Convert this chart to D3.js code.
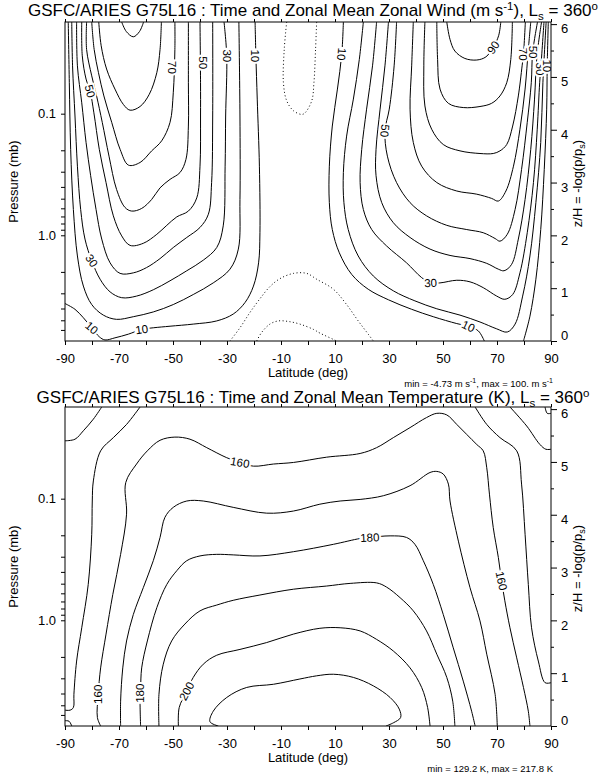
<!DOCTYPE html>
<html>
<head>
<meta charset="utf-8">
<script src="https://cdn.jsdelivr.net/npm/d3@7"></script>
<style>
body { margin: 0; background: #fff; }
svg text { font-family: "Liberation Sans", Arial, sans-serif; fill: #000; }
</style>
</head>
<body>
<div class="canva"></div>
<script>
// ---- data (lat in deg, z = -log(p/ps)) ----
const latTicks = d3.range(-90, 91, 10);
const latLabels = [-90, -70, -50, -30, -10, 10, 30, 50, 70, 90];
const zTicks = [0, 1, 2, 3, 4, 5, 6];
const zMinorTicks = [0.5, 1.5, 2.5, 3.5, 4.5, 5.5];
const pressureTicks = [0.1, 0.2, 0.3, 0.4, 0.5, 0.6, 0.7, 0.8, 0.9, 1, 2, 3, 4, 5, 6];
const pressureLabels = {0.1: "0.1", 1: "1.0"};
const surfacePressure = 7.4;
const zTop = 6.04;

// zonal wind, southern jet
const windSouth = [
  {level: 90, pts: [[-69.0,6.04],[-67.3,5.86],[-64.7,5.76],[-62.4,5.86],[-60.9,6.04]]},
  {level: 80, pts: [[-77.5,6.04],[-76.6,5.59],[-74.6,5.15],[-71.5,4.77],[-68.4,4.48],[-65.9,4.37],[-62.2,4.44],[-58.8,4.67],[-56.0,5.08],[-54.8,5.52],[-54.3,6.04]]},
  {level: 70, pts: [[-80.1,6.04],[-79.2,5.52],[-77.6,5.08],[-75.6,4.64],[-72.7,4.14],[-69.6,3.63],[-66.5,3.33],[-62.2,3.38],[-57.9,3.60],[-54.2,3.79],[-51.1,4.14],[-49.9,4.70],[-49.3,5.52],[-49.3,6.04]]},
  {level: 60, pts: [[-82.0,6.04],[-82.0,5.52],[-80.1,5.02],[-78.3,4.64],[-76.2,4.14],[-73.7,3.50],[-70.9,2.87],[-67.8,2.53],[-65.3,2.46],[-61.6,2.51],[-57.9,2.68],[-54.8,2.90],[-51.1,3.06],[-47.4,3.19],[-45.2,3.44],[-44.3,4.07],[-44.3,4.89],[-44.3,6.04]]},
  {level: 50, pts: [[-83.8,6.04],[-83.6,5.40],[-82.2,4.96],[-80.7,4.73],[-79.3,4.32],[-77.3,3.63],[-74.8,3.00],[-72.1,2.37],[-69.0,1.99],[-65.9,1.81],[-61.0,1.85],[-56.0,2.02],[-52.3,2.19],[-48.6,2.35],[-44.3,2.46],[-41.2,2.71],[-40.0,3.31],[-39.8,4.26],[-39.8,4.89],[-40.0,6.04]]},
  {level: 40, pts: [[-85.7,6.04],[-85.4,5.21],[-83.8,4.51],[-82.2,3.76],[-80.5,3.13],[-78.5,2.49],[-76.4,1.93],[-73.3,1.48],[-69.6,1.28],[-64.7,1.29],[-59.8,1.39],[-54.8,1.56],[-49.9,1.77],[-44.9,1.96],[-40.0,2.15],[-36.9,2.40],[-35.7,3.0],[-35.3,4.26],[-35.3,6.04]]},
  {level: 30, pts: [[-87.5,6.04],[-87.2,5.21],[-86.3,4.26],[-85.4,3.31],[-84.2,2.49],[-82.6,1.93],[-80.1,1.52],[-77.0,1.17],[-73.3,0.93],[-69.0,0.82],[-63.5,0.85],[-57.3,0.97],[-51.1,1.14],[-44.9,1.33],[-38.8,1.53],[-33.8,1.77],[-31.4,2.18],[-30.7,3.31],[-30.5,4.26],[-30.1,5.40],[-31.1,6.04]]},
  {level: 20, pts: [[-88.8,6.04],[-88.4,4.89],[-87.9,3.63],[-86.9,2.49],[-85.4,1.61],[-83.2,1.04],[-80.1,0.69],[-75.8,0.49],[-70.9,0.41],[-64.7,0.46],[-57.3,0.55],[-49.9,0.69],[-42.5,0.88],[-35.1,1.10],[-28.9,1.36],[-25.8,1.74],[-25.2,2.68],[-25.2,4.26],[-25.6,6.04]]},
  {level: 10, pts: [[-19.6,6.04],[-19.3,5.40],[-18.8,4.58],[-18.0,3.31],[-17.8,2.05],[-18.3,1.48],[-20.2,1.04],[-23.3,0.73],[-27.7,0.51],[-33.8,0.38],[-42.5,0.32],[-51.1,0.28],[-57.3,0.25],[-61.6,0.22],[-66.5,0.13],[-71.5,0.06],[-75.2,0.02],[-77.3,0.08],[-80.1,0.25],[-83.2,0.44],[-86.3,0.60],[-90,0.71]]}
];

// zonal wind, northern jet
const windNorth = [
  {level: 90, pts: [[51.4,6.04],[52.6,5.71],[54.4,5.49],[58.1,5.35],[62.5,5.32],[65.9,5.38],[68.6,5.56],[70.6,5.78],[71.4,6.04]]},
  {level: 80, pts: [[47.7,6.04],[48.0,5.33],[48.9,4.77],[52.0,4.50],[57.5,4.42],[63.7,4.44],[68.0,4.50],[71.1,4.64],[73.6,4.89],[75.1,5.33],[75.7,6.04]]},
  {level: 70, pts: [[43.3,6.04],[42.9,5.21],[43.3,4.45],[45.8,4.01],[50.1,3.72],[56.3,3.60],[63.7,3.55],[68.6,3.55],[71.1,3.60],[73.6,3.72],[75.8,4.07],[77.9,4.64],[79.3,5.21],[79.8,5.43],[80.5,6.04]]},
  {level: 60, pts: [[39.0,6.04],[38.4,5.21],[37.8,4.39],[39.0,3.76],[42.1,3.31],[47.7,3.0],[55.1,2.84],[62.5,2.78],[68.0,2.70],[70.5,2.65],[73.3,2.84],[76.1,3.31],[78.5,4.01],[80.4,4.77],[81.6,5.52],[82.5,6.04]]},
  {level: 50, pts: [[32.8,6.04],[31.9,5.21],[30.1,4.39],[28.5,3.98],[29.4,3.50],[32.8,3.0],[37.8,2.62],[43.9,2.37],[51.4,2.19],[58.8,2.11],[64.9,2.05],[69.3,1.94],[71.1,1.89],[73.8,2.02],[76.7,2.49],[79.1,3.25],[81.2,4.14],[82.7,4.89],[83.2,5.46],[85.0,6.04]]},
  {level: 40, pts: [[29.8,6.04],[28.5,5.21],[26.7,4.39],[25.2,3.63],[25.2,3.13],[27.3,2.62],[31.6,2.24],[37.8,1.96],[45.2,1.74],[52.6,1.62],[60.0,1.56],[66.2,1.47],[70.5,1.36],[72.6,1.33],[75.4,1.45],[77.9,1.93],[80.4,2.68],[82.5,3.63],[83.9,4.58],[84.8,5.40],[86.5,6.04]]},
  {level: 30, pts: [[25.4,6.04],[23.9,5.21],[21.7,4.39],[19.9,3.63],[19.3,3.0],[20.5,2.49],[23.6,2.11],[29.1,1.80],[36.5,1.48],[42.1,1.20],[45.4,1.10],[48.9,1.10],[55.1,1.15],[60.0,1.12],[64.9,1.01],[69.9,0.85],[72.9,0.79],[75.8,0.88],[78.5,1.29],[81.2,2.05],[83.5,3.0],[84.9,4.01],[85.8,4.89],[86.2,5.15],[87.4,6.04]]},
  {level: 20, pts: [[20.5,6.04],[19.0,5.33],[16.8,4.58],[14.3,3.88],[13.1,3.19],[13.3,2.62],[14.9,2.11],[18.6,1.61],[24.2,1.23],[31.6,0.95],[39.6,0.76],[47.7,0.61],[56.3,0.49],[63.7,0.36],[69.9,0.23],[73.8,0.17],[76.7,0.32],[79.5,0.85],[82.2,1.61],[84.4,2.62],[86.2,3.76],[87.0,4.89],[88.2,6.04]]},
  {level: 10, pts: [[13.1,6.04],[12.5,5.43],[10.9,4.77],[9.0,4.07],[7.9,3.31],[7.9,2.62],[9.0,2.11],[11.6,1.67],[16.2,1.26],[22.3,0.98],[29.8,0.78],[38.4,0.60],[46.4,0.46],[55.1,0.33],[59.4,0.28],[63.1,0.19],[65.3,0]]},
  {level: 10, pts: [[79.8,0],[82.2,0.47],[84.4,1.17],[86.2,2.11],[87.5,3.25],[88.4,4.39],[88.6,5.21],[89.0,6.04]]}
];

// weak easterly zero lines (dotted)
const windZero = [
  [[-7.9,6.04],[-8.8,5.52],[-9.1,4.89],[-7.9,4.55],[-5.4,4.36],[-2.3,4.29],[-1.1,4.32],[1.4,4.55],[2.2,4.89],[2.8,5.52],[3.2,6.04]],
  [[-28.9,0],[-25.2,0.25],[-21.5,0.54],[-17.8,0.80],[-14.1,1.03],[-10.4,1.18],[-5.4,1.28],[-0.5,1.28],[3.2,1.17],[9.4,0.98],[14.3,0.69],[18.6,0.38],[22.3,0.13],[24.2,0]],
  [[-19.0,0],[-17.2,0.16],[-14.1,0.32],[-11.0,0.38],[-7.3,0.37],[-3.0,0.32],[2.0,0.22],[4.4,0.15],[9.4,0.03],[10.6,0]]
];

const windLabels = [
  {text: "70", lat: -50.5, z: 5.18, angle: 90},
  {text: "50", lat: -39.0, z: 5.27, angle: 90},
  {text: "30", lat: -30.1, z: 5.40, angle: 90},
  {text: "10", lat: -19.5, z: 5.40, angle: 90},
  {text: "50", lat: -80.7, z: 4.73, angle: 75},
  {text: "30", lat: -80.1, z: 1.52, angle: 55},
  {text: "10", lat: -80.1, z: 0.25, angle: 40},
  {text: "10", lat: -61.6, z: 0.22, angle: -8},
  {text: "10", lat: 12.5, z: 5.43, angle: 95},
  {text: "50", lat: 28.5, z: 3.98, angle: 95},
  {text: "90", lat: 68.6, z: 5.56, angle: -55},
  {text: "70", lat: 79.8, z: 5.43, angle: 90},
  {text: "50", lat: 83.4, z: 5.47, angle: 90},
  {text: "30", lat: 86.0, z: 5.15, angle: 90},
  {text: "10", lat: 88.4, z: 5.21, angle: 90},
  {text: "30", lat: 45.4, z: 1.10, angle: -3},
  {text: "10", lat: 59.4, z: 0.28, angle: 25}
];

// temperature (K)
const tempLines = [
  {level: 130, pts: [[87.8,6.04],[88.6,5.92],[90,5.92]]},
  {level: 140, pts: [[-90,5.40],[-86.3,5.43],[-83.2,5.59],[-79.5,5.81],[-76.4,6.04]]},
  {level: 140, pts: [[74.8,6.04],[81.0,5.68],[85.9,5.33],[88.1,5.24],[90,5.24]]},
  {level: 150, pts: [[-62.2,6.04],[-67.2,5.71],[-72.1,5.46],[-76.8,5.21],[-79.5,4.64],[-79.9,4.26],[-80.1,3.63],[-81.4,2.68],[-83.8,1.86],[-85.7,1.23],[-86.7,0.60],[-86.9,0.35],[-88.1,0.30],[-90,0.30]]},
  {level: 150, pts: [[-90,0.10],[-88.5,0.09],[-87.5,0]]},
  {level: 150, pts: [[61.9,6.04],[66.2,5.71],[71.1,5.46],[77.3,5.21],[79.1,4.58],[80.4,3.63],[81.6,2.68],[82.8,1.86],[85.3,1.23],[87.8,0.82],[90,0.82]]},
  {level: 160, pts: [[-76.8,0],[-78.0,0.16],[-77.7,0.60],[-76.8,1.10],[-74.8,1.74],[-72.3,2.49],[-69.4,3.25],[-67.2,4.01],[-67.5,4.61],[-63.5,4.96],[-59.5,5.21],[-54.8,5.41],[-49.3,5.47],[-43.7,5.43],[-37.5,5.27],[-30.1,5.08],[-25.2,4.99],[-20.2,4.92],[-12.8,4.96],[-5.4,4.99],[6.9,5.09],[19.3,5.16],[25.4,5.27],[31.6,5.46],[37.8,5.65],[43.9,5.84],[47.7,5.92],[51.4,5.89],[55.1,5.71],[58.8,5.52],[62.5,5.33],[64.9,5.21],[66.2,4.89],[67.2,4.39],[68.6,3.76],[70.5,3.19],[71.7,2.75],[72.9,2.37],[74.8,1.86],[77.3,1.29],[79.8,0.73],[81.6,0.28],[82.2,0]]},
  {level: 170, pts: [[-69.4,0],[-69.4,0.47],[-68.6,1.10],[-67.2,1.61],[-64.7,2.11],[-61.0,2.62],[-57.3,3.13],[-54.8,3.57],[-53.0,3.95],[-49.9,4.14],[-44.9,4.26],[-38.8,4.26],[-27.7,4.14],[-15.3,4.03],[-5.4,4.07],[4.4,4.20],[11.9,4.26],[19.3,4.29],[27.9,4.36],[37.8,4.55],[45.2,4.80],[47.7,4.82],[50.1,4.77],[52.0,4.58],[52.6,4.26],[55.7,3.50],[60.0,2.62],[63.7,1.99],[66.2,1.36],[69.3,0.60],[70.1,0]]},
  {level: 180, pts: [[-62.0,0],[-62.2,0.47],[-62.0,0.70],[-61.6,1.10],[-59.5,1.61],[-56.0,2.24],[-52.3,2.68],[-48.6,2.94],[-44.9,3.13],[-40.0,3.22],[-33.8,3.25],[-27.7,3.24],[-17.8,3.22],[-5.4,3.30],[9.4,3.44],[19.3,3.55],[22.9,3.57],[30.4,3.60],[36.5,3.57],[39.6,3.44],[42.7,3.13],[46.4,2.68],[50.1,2.11],[53.8,1.48],[57.5,0.85],[60.6,0.28],[61.9,0]]},
  {level: 190, pts: [[-55.2,0],[-55.2,0.60],[-53.6,1.17],[-50.5,1.61],[-45.6,1.93],[-40.0,2.18],[-33.8,2.29],[-27.7,2.38],[-17.8,2.48],[-5.4,2.59],[6.9,2.65],[15.6,2.70],[25.4,2.71],[29.1,2.63],[34.1,2.43],[39.0,2.18],[43.9,1.80],[47.7,1.36],[51.4,0.92],[53.6,0.47],[54.4,0]]},
  {level: 200, pts: [[-48.0,0],[-47.7,0.35],[-44.9,0.66],[-42.5,0.92],[-38.8,1.17],[-33.8,1.34],[-25.2,1.45],[-15.3,1.58],[-5.4,1.74],[4.4,1.85],[11.9,1.86],[19.3,1.80],[25.4,1.64],[31.6,1.42],[37.8,1.10],[42.1,0.73],[44.3,0.35],[45.2,0]]},
  {level: 210, pts: [[-33.2,0],[-36.3,0.08],[-35.1,0.28],[-30.1,0.54],[-22.7,0.73],[-12.8,0.79],[-3.0,0.89],[3.2,0.95],[9.4,0.98],[16.8,0.92],[24.2,0.76],[30.4,0.54],[33.8,0.32],[34.3,0.16],[31.6,0.06],[28.9,0]]}
];

const tempLabels = [
  {text: "160", lat: -25.2, z: 4.99, angle: 10},
  {text: "160", lat: -77.7, z: 0.60, angle: -90},
  {text: "180", lat: -62.1, z: 0.62, angle: -90},
  {text: "200", lat: -45.0, z: 0.66, angle: -62},
  {text: "180", lat: 22.9, z: 3.57, angle: -3},
  {text: "160", lat: 71.7, z: 2.75, angle: 78}
];

// ---- layout ----
const margin = {left: 65};
const width = 486;
const height = 319;

const svg = d3.select(".canva").append("svg")
    .attr("width", 607)
    .attr("height", 784);

const x = d3.scaleLinear().domain([-90, 90]).range([0, width]);
const z = d3.scaleLinear().domain([0, zTop]).range([height, 0]);
const p = d3.scaleLog()
    .domain([surfacePressure, surfacePressure * Math.exp(-zTop)])
    .range([height, 0]);

const contourLine = d3.line()
    .x(d => x(d[0]))
    .y(d => z(d[1]))
    .curve(d3.curveCatmullRom.alpha(0.5));

function addTitle(g, y, parts) {
    const t = g.append("text")
        .attr("x", 313 - margin.left)
        .attr("y", y)
        .attr("text-anchor", "middle")
        .style("font-size", "17px");
    parts.forEach(([s, shift]) => {
        const ts = t.append("tspan").text(s);
        if (shift === "sup") ts.attr("dy", -6).style("font-size", "11.5px");
        if (shift === "sub") ts.attr("dy", 4).style("font-size", "11.5px");
        if (shift === "down") ts.attr("dy", 6);
        if (shift === "up") ts.attr("dy", -4);
    });
}

function drawPanel(top, id, lines, dotted, labels, titleParts, minmaxParts) {
    const g = svg.append("g").attr("transform", `translate(${margin.left}, ${top})`);

    g.append("clipPath").attr("id", id)
        .append("rect").attr("width", width).attr("height", height);

    const plot = g.append("g").attr("clip-path", `url(#${id})`);

    plot.selectAll(".solid")
        .data(lines)
        .enter()
        .append("path")
        .attr("d", d => contourLine(d.pts))
        .attr("fill", "none")
        .attr("stroke", "#000")
        .attr("stroke-width", 1);

    plot.selectAll(".dotted")
        .data(dotted)
        .enter()
        .append("path")
        .attr("d", d => contourLine(d))
        .attr("fill", "none")
        .attr("stroke", "#000")
        .attr("stroke-width", 1)
        .attr("stroke-dasharray", "1,2.5");

    plot.selectAll(".clabel")
        .data(labels)
        .enter()
        .append("text")
        .attr("transform", d => `translate(${x(d.lat)}, ${z(d.z)}) rotate(${d.angle})`)
        .attr("text-anchor", "middle")
        .attr("dy", "0.36em")
        .style("font-size", "11.5px")
        .style("stroke", "#fff")
        .style("stroke-width", 4)
        .style("paint-order", "stroke")
        .text(d => d.text);

    // frame
    g.append("rect")
        .attr("width", width)
        .attr("height", height)
        .attr("fill", "none")
        .attr("stroke", "#000")
        .attr("stroke-width", 1);

    const bottomAxis = d3.axisBottom(x)
        .tickValues(latTicks)
        .tickSize(4)
        .tickSizeOuter(0)
        .tickPadding(9)
        .tickFormat(d => latLabels.includes(d) ? d : "");
    g.append("g")
        .attr("transform", `translate(0, ${height})`)
        .call(bottomAxis)
        .call(a => a.select(".domain").remove())
        .selectAll("text").style("font-size", "13px");

    g.append("g")
        .call(d3.axisTop(x).tickValues(latTicks).tickSize(3).tickSizeOuter(0).tickFormat(""))
        .call(a => a.select(".domain").remove());

    g.append("g")
        .call(d3.axisLeft(p).tickValues(pressureTicks).tickSize(4).tickSizeOuter(0).tickPadding(5)
            .tickFormat(d => pressureLabels[d] || ""))
        .call(a => a.select(".domain").remove())
        .selectAll("text").style("font-size", "13px");

    const right = g.append("g").attr("transform", `translate(${width}, 0)`);
    right.call(d3.axisRight(z).tickValues(zMinorTicks).tickSize(3).tickSizeOuter(0).tickFormat(""))
        .call(a => a.select(".domain").remove());
    const rightMajor = g.append("g").attr("transform", `translate(${width}, 0)`);
    rightMajor.call(d3.axisRight(z).tickValues(zTicks).tickSize(6).tickSizeOuter(0).tickPadding(4)
            .tickFormat(d3.format("d")))
        .call(a => a.select(".domain").remove());
    rightMajor.selectAll("text")
        .style("font-size", "13px")
        .attr("y", d => Math.min(Math.max(0, z(d) + 4) - z(d), height - 6 - z(d)))
        .attr("dy", "0.36em");

    g.selectAll(".tick line").attr("stroke", "#000");

    g.append("text")
        .attr("x", width / 2)
        .attr("y", height + 36)
        .attr("text-anchor", "middle")
        .style("font-size", "13px")
        .text("Latitude (deg)");

    g.append("text")
        .attr("transform", `translate(${18 - margin.left}, ${height / 2}) rotate(-90)`)
        .attr("text-anchor", "middle")
        .style("font-size", "13px")
        .text("Pressure (mb)");

    const zl = g.append("text")
        .attr("transform", `translate(${width + 31}, ${height / 2 + 2}) rotate(-90)`)
        .attr("text-anchor", "middle")
        .style("font-size", "13px");
    zl.append("tspan").text("z/H = -log(p/p");
    zl.append("tspan").attr("dy", 3).style("font-size", "9px").text("s");
    zl.append("tspan").attr("dy", -3).text(")");

    addTitle(g, top === 22 ? -6 : -4, titleParts);

    const mm = g.append("text")
        .attr("x", width + 2)
        .attr("y", height + 46)
        .attr("text-anchor", "end")
        .style("font-size", "9.5px");
    minmaxParts.forEach(([s, shift]) => {
        const ts = mm.append("tspan").text(s);
        if (shift === "sup") ts.attr("dy", -4).style("font-size", "7px");
        if (shift === "down") ts.attr("dy", 4);
    });
}

drawPanel(22, "clipWind", windSouth.concat(windNorth), windZero, windLabels,
    [["GSFC/ARIES G75L16 : Time and Zonal Mean Zonal Wind (m s"], ["-1", "sup"], ["), L", "down"], ["s", "sub"], [" = 360", "up"], ["o", "sup"]],
    [["min =  -4.73 m s"], ["-1", "sup"], [", max =  100. m s", "down"], ["-1", "sup"]]);

drawPanel(407, "clipTemp", tempLines, [], tempLabels,
    [["GSFC/ARIES G75L16 : Time and Zonal Mean Temperature (K), L"], ["s", "sub"], [" = 360", "up"], ["o", "sup"]],
    [["min =  129.2 K, max =  217.8 K"]]);
</script>
</body>
</html>
